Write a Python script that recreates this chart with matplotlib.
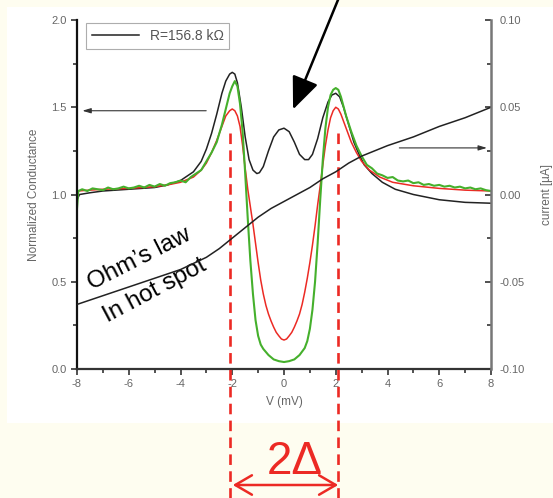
"""
Normalized conductance vs bias (three traces) with the hot-spot I-V curve
on a twin axis, plus the 2-Delta gap annotation.
"""
import matplotlib
matplotlib.use("Agg")
import matplotlib.pyplot as plt
from matplotlib.patches import Rectangle, FancyArrowPatch
from matplotlib.ticker import MultipleLocator

plt.rcParams["font.family"] = ["Liberation Sans", "DejaVu Sans"]
plt.rcParams["axes.unicode_minus"] = False

# black conductance trace, R = 156.8 kOhm
v_black = [-8.0, -7.9, -7.5, -7, -6, -5, -4.5, -4, -3.5, -3.2, -3.0, -2.8, -2.6, -2.4,
           -2.25, -2.1, -2.0, -1.9, -1.8, -1.65, -1.5, -1.35, -1.2, -1.05, -0.95, -0.8,
           -0.6, -0.4, -0.2, 0, 0.2, 0.4, 0.6, 0.8, 0.95, 1.1, 1.3, 1.5, 1.7, 1.85, 2.0,
           2.15, 2.3, 2.5, 2.7, 2.9, 3.1, 3.4, 3.8, 4.3, 5, 6, 7, 8]
g_black = [0.97, 1.00, 1.01, 1.02, 1.03, 1.04, 1.055, 1.08, 1.13, 1.19, 1.26, 1.35, 1.46, 1.58,
           1.65, 1.69, 1.70, 1.69, 1.64, 1.50, 1.33, 1.20, 1.14, 1.12, 1.125, 1.16,
           1.25, 1.33, 1.37, 1.38, 1.36, 1.30, 1.23, 1.20, 1.20, 1.23, 1.32, 1.44, 1.53, 1.57, 1.58,
           1.56, 1.50, 1.40, 1.30, 1.23, 1.17, 1.12, 1.07, 1.03, 1.00, 0.97, 0.955, 0.95]

# red trace
v_red = [-8, -7, -6, -5, -4.5, -4, -3.5, -3.2, -3.0, -2.8, -2.6, -2.4, -2.25, -2.1, -2.0,
         -1.9, -1.8, -1.7, -1.6, -1.5, -1.4, -1.3, -1.2, -1.1, -1.0, -0.9, -0.8, -0.7, -0.6,
         -0.5, -0.4, -0.3, -0.2, -0.1, 0, 0.1, 0.2, 0.3, 0.4, 0.5, 0.6, 0.7, 0.8, 0.9, 1.0,
         1.1, 1.2, 1.3, 1.4, 1.5, 1.6, 1.7, 1.8, 1.9, 2.0, 2.1, 2.2, 2.4, 2.6, 2.8, 3.0,
         3.3, 3.7, 4.2, 5, 6, 7, 8]
g_red = [1.02, 1.03, 1.035, 1.045, 1.055, 1.07, 1.10, 1.14, 1.18, 1.24, 1.31, 1.39, 1.45, 1.48, 1.49,
         1.48, 1.45, 1.39, 1.28, 1.15, 1.03, 0.93, 0.83, 0.72, 0.61, 0.51, 0.43, 0.365, 0.315,
         0.275, 0.24, 0.21, 0.19, 0.172, 0.166, 0.172, 0.19, 0.21, 0.24, 0.275, 0.315, 0.37, 0.44, 0.52, 0.61,
         0.71, 0.82, 0.94, 1.05, 1.17, 1.28, 1.37, 1.44, 1.48, 1.50, 1.49, 1.46, 1.38, 1.30, 1.24, 1.19,
         1.14, 1.10, 1.07, 1.05, 1.035, 1.025, 1.02]

# green trace (noisy)
v_green = [-8.0, -7.95, -7.8, -7.6, -7.4, -7.2, -7.0, -6.8, -6.6, -6.4, -6.2, -6.0, -5.8, -5.6,
           -5.4, -5.2, -5.0, -4.8, -4.6, -4.4, -4.2, -4.0, -3.8, -3.6, -3.4, -3.2, -3.0, -2.8,
           -2.6, -2.4, -2.2, -2.1, -2.0, -1.9, -1.8, -1.7, -1.6, -1.5, -1.4, -1.3, -1.2, -1.1,
           -1.0, -0.9, -0.8, -0.6, -0.4, -0.2, 0, 0.2, 0.4, 0.6, 0.8, 0.9, 1.0, 1.1, 1.2, 1.3,
           1.4, 1.5, 1.6, 1.7, 1.8, 1.9, 2.0, 2.1, 2.2, 2.4, 2.6, 2.8, 3.0, 3.2, 3.4, 3.6, 3.8,
           4.0, 4.2, 4.4, 4.6, 4.8, 5.0, 5.2, 5.4, 5.6, 5.8, 6.0, 6.2, 6.4, 6.6, 6.8, 7.0, 7.2,
           7.4, 7.6, 7.8, 8.0]
g_green = [0.92, 1.02, 1.03, 1.02, 1.035, 1.03, 1.025, 1.04, 1.03, 1.035, 1.045, 1.035, 1.04, 1.05,
           1.04, 1.055, 1.045, 1.06, 1.05, 1.065, 1.07, 1.08, 1.07, 1.10, 1.12, 1.14, 1.19, 1.24,
           1.30, 1.40, 1.52, 1.58, 1.62, 1.65, 1.62, 1.52, 1.36, 1.12, 0.86, 0.62, 0.43, 0.28,
           0.19, 0.14, 0.115, 0.08, 0.055, 0.045, 0.04, 0.045, 0.055, 0.08, 0.12, 0.16, 0.23, 0.34, 0.50, 0.72,
           0.97, 1.20, 1.38, 1.50, 1.57, 1.60, 1.61, 1.60, 1.56, 1.45, 1.36, 1.28, 1.22, 1.17, 1.15, 1.12, 1.11,
           1.095, 1.10, 1.08, 1.075, 1.08, 1.065, 1.07, 1.055, 1.06, 1.05, 1.055, 1.045, 1.05, 1.04, 1.045, 1.035, 1.04,
           1.03, 1.035, 1.025, 1.02]

# hot-spot I-V curve (right axis, uA)
v_iv = [-8, -7, -6, -5, -4, -3, -2.5, -2, -1.5, -1, -0.5, 0, 0.5, 1, 1.5, 2, 2.5, 3, 4, 5, 6, 7, 8]
i_iv = [-0.063, -0.058, -0.053, -0.048, -0.043, -0.036, -0.031, -0.025, -0.019, -0.013, -0.008,
        -0.004, 0.000, 0.004, 0.009, 0.013, 0.018, 0.022, 0.028, 0.033, 0.039, 0.044, 0.050]

gap_edges = [-2.08, 2.1]
legend_label = "R=156.8 k\u03a9"

GRAY = "#666666"
RED = "#ec2a24"
GREEN = "#45b02c"

fig = plt.figure(figsize=(5.53, 4.98), dpi=100, facecolor="#fefdf0")
fig.add_artist(Rectangle((7 / 553, 1 - 423 / 498), 1, 416 / 498, transform=fig.transFigure,
                         facecolor="white", edgecolor="none", zorder=-10))

ax = fig.add_axes([77 / 553, 1 - 369 / 498, 414 / 553, 349 / 498])
ax.set_facecolor("white")
ax2 = ax.twinx()

ax.plot(v_black, g_black, color="#222222", lw=1.1, label=legend_label)
ax.plot(v_red, g_red, color=RED, lw=1.1)
ax.plot(v_green, g_green, color=GREEN, lw=1.5)
ax2.plot(v_iv, i_iv, color="#222222", lw=1.1)

ax.set_xlim(-8, 8)
ax.set_ylim(0, 2.0)
ax2.set_ylim(-0.10, 0.10)

ax.xaxis.set_major_locator(MultipleLocator(2))
ax.xaxis.set_minor_locator(MultipleLocator(1))
ax.yaxis.set_major_locator(MultipleLocator(0.5))
ax.yaxis.set_minor_locator(MultipleLocator(0.25))
ax2.yaxis.set_major_locator(MultipleLocator(0.05))
ax2.yaxis.set_minor_locator(MultipleLocator(0.025))
ax2.yaxis.set_major_formatter(plt.FormatStrFormatter("%.2f"))
ax.yaxis.set_major_formatter(plt.FormatStrFormatter("%.1f"))

for a in (ax, ax2):
    a.spines["top"].set_visible(False)
ax.spines["left"].set_linewidth(1.6)
ax.spines["left"].set_color("#111111")
ax.spines["bottom"].set_linewidth(1.6)
ax.spines["bottom"].set_color("#333333")
ax.spines["right"].set_visible(False)
ax2.spines["left"].set_visible(False)
ax2.spines["bottom"].set_visible(False)
ax2.spines["right"].set_linewidth(1.8)
ax2.spines["right"].set_color("#777777")

ax.tick_params(which="both", direction="out", color="#333333", labelcolor=GRAY, labelsize=8)
ax.tick_params(which="major", length=4, width=1.2)
ax.tick_params(which="minor", length=3, width=1.2)
ax2.tick_params(which="both", direction="in", color="#333333", labelcolor=GRAY, labelsize=8)
ax2.tick_params(which="major", length=4, width=1.2, pad=6)
ax2.tick_params(which="minor", length=3, width=1.2)

ax.set_xlabel("V (mV)", color=GRAY, fontsize=8.5, labelpad=5)
ax.set_ylabel("Normalized Conductance", color=GRAY, fontsize=8.5, labelpad=8)
ax2.set_ylabel("current [\u00b5A]", color=GRAY, fontsize=8.5, labelpad=12)

leg = ax.legend(loc="upper left", fontsize=10, frameon=True, fancybox=False,
                handlelength=3.4, borderpad=0.4, bbox_to_anchor=(0.005, 1.01))
leg.get_frame().set_edgecolor("#999999")
leg.get_frame().set_linewidth(0.8)
for t in leg.get_texts():
    t.set_color("#555555")

# side arrows pointing to each axis
ax.annotate("", xy=(-7.9, 1.48), xytext=(-2.9, 1.48),
            arrowprops=dict(arrowstyle="-|>,head_length=0.5,head_width=0.15",
                            color="#333333", lw=0.8))
ax2.annotate("", xy=(7.95, 0.0267), xytext=(4.35, 0.0267),
             arrowprops=dict(arrowstyle="-|>,head_length=0.5,head_width=0.15",
                             color="#333333", lw=0.8))

# big pointer arrow from the top
fig.add_artist(FancyArrowPatch(
    (340 / 553, 1.01), (292 / 553, 1 - 112 / 498), transform=fig.transFigure,
    arrowstyle="-|>,head_length=1.0,head_width=0.42", mutation_scale=20,
    color="black", lw=1.8))

ax.text(-5.6, 0.63, "Ohm\u2019s law", rotation=27, fontsize=17.5, ha="center", va="center")
ax.text(-5.0, 0.45, "In hot spot", rotation=28, fontsize=17.5, ha="center", va="center")

# gap markers
for x in gap_edges:
    ax.plot([x, x], [1.35, -0.74], color=RED, lw=1.9, ls=(0, (4, 2.4)), clip_on=False, zorder=5)

fig.add_artist(FancyArrowPatch(
    (230 / 553, 1 - 485 / 498), (341 / 553, 1 - 485 / 498), transform=fig.transFigure,
    arrowstyle="<->,head_length=0.6,head_width=0.35", mutation_scale=20, color=RED, lw=1.8))
fig.text(295 / 553, 1 - 462 / 498, "2\u0394", color=RED, fontsize=33, ha="center", va="center")

fig.savefig("out.png", dpi=100, facecolor=fig.get_facecolor())
